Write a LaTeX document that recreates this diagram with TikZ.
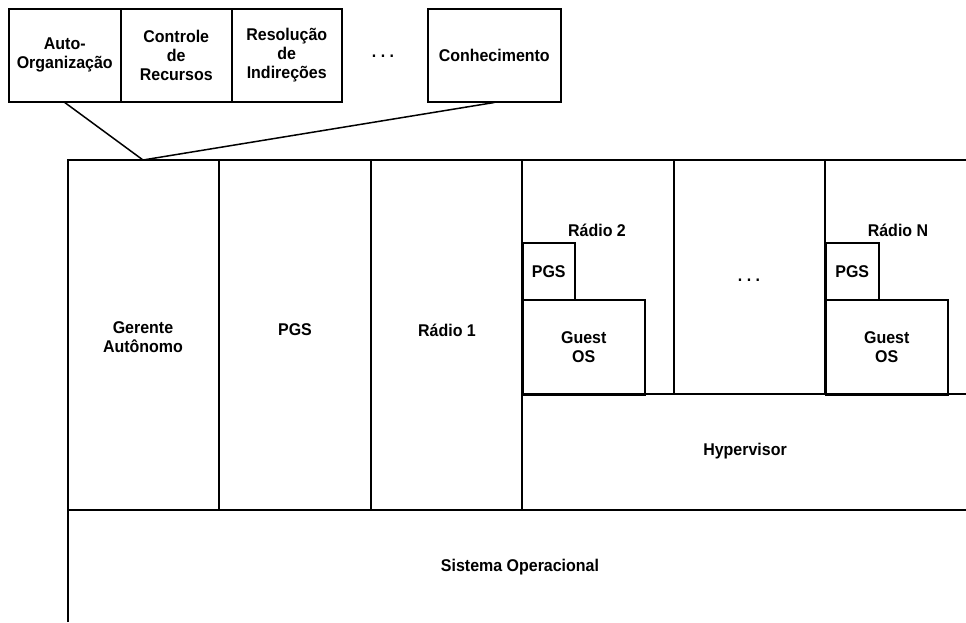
\documentclass[tikz,border=0pt]{standalone}
\usepackage{fontspec}
\setmainfont{Liberation Sans}
\newfontfamily\heavysans[FakeStretch=0.94]{Liberation Sans Bold}
\begin{document}
\begin{tikzpicture}[x=1pt,y=-1pt, line width=1.5pt,
  lbl/.style={font=\heavysans\fontsize{17}{19}\selectfont, align=center, inner sep=0pt},
  box/.style={draw, line width=1.5pt, inner sep=0pt, anchor=north west, lbl}]
\useasboundingbox (0,0) rectangle (966,622);
% top component boxes
\node[box, minimum width=112, minimum height=93] (auto) at (8,8) {Auto-\\Organização};
\node[box, minimum width=111, minimum height=93] (ctrl) at (120,8) {Controle\\de\\Recursos};
\node[box, minimum width=110, minimum height=93] (resol) at (231,8) {Resolução\\de\\Indireções};
\node[lbl] (dotsA) at (383,56) {.\ .\ .};
\node[box, minimum width=133, minimum height=93] (conh) at (427,8) {Conhecimento};
\coordinate (gtop) at (143,160);
\draw (auto.south) -- (gtop) -- (conh.south);
% main frame
\draw (68,622) -- (68,160) -- (966,160);
\draw (68,510) -- (966,510);
\draw (219,160) -- (219,510);
\draw (371,160) -- (371,510);
\draw (522,160) -- (522,510);
\draw (674,160) -- (674,394);
\draw (825,160) -- (825,394);
\draw (522,394) -- (966,394);
% radio boxes
\node[box, minimum width=52, minimum height=57] (pgsB) at (522,242) {PGS};
\node[box, minimum width=122, minimum height=95] (guestB) at (522,299) {Guest\\OS};
\node[box, minimum width=53, minimum height=57] (pgsN) at (825,242) {PGS};
\node[box, minimum width=122, minimum height=95] (guestN) at (825,299) {Guest\\OS};
% labels
\node[lbl] (ger) at (143,337) {Gerente\\Autônomo};
\node[lbl] (pgsA) at (295,330) {PGS};
\node[lbl] (r1) at (447,330) {Rádio 1};
\node[lbl] (r2) at (597,230) {Rádio 2};
\node[lbl] (rN) at (898,230) {Rádio N};
\node[lbl] (dotsB) at (749,280) {.\ .\ .};
\node[lbl] (hyp) at (745,451) {Hypervisor};
\node[lbl] (sop) at (520,567) {Sistema Operacional};
\end{tikzpicture}
\end{document}
